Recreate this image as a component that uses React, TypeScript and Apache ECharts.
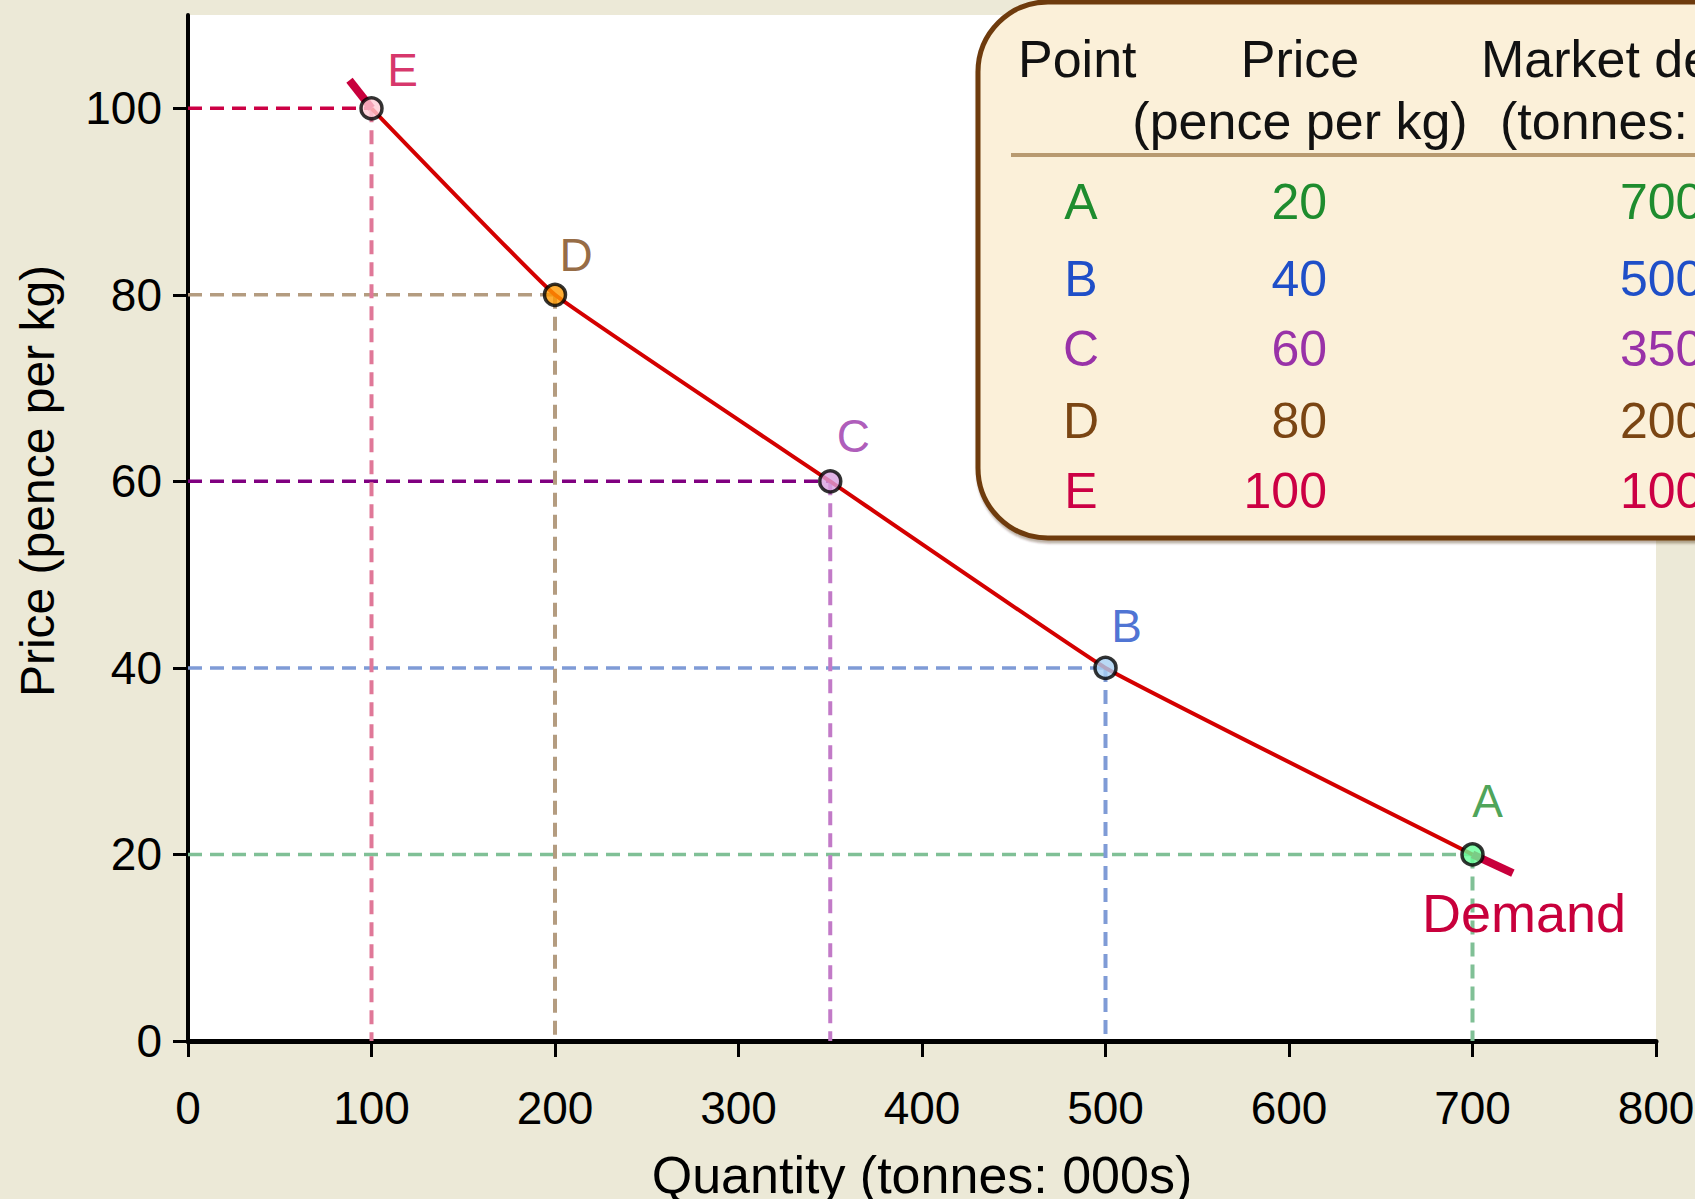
import React, { useEffect, useRef } from "react";
import * as echarts from "echarts";

// ---- data ----
const pointNames = ["A", "B", "C", "D", "E"];
const prices = [20, 40, 60, 80, 100]; // pence per kg
const quantities = [700, 500, 350, 200, 100]; // tonnes 000s
const curveStart = [88, 103]; // upper-left end of the demand curve beyond E
const curveEnd = [722, 18]; // lower-right end of the demand curve beyond A
const xTicks = [0, 100, 200, 300, 400, 500, 600, 700, 800];
const yTicks = [0, 20, 40, 60, 80, 100];

// ---- styles ----
const labelColors = ["#1E8C2E", "#1F4FC8", "#9932A8", "#7A4513", "#CC0044"];
const markerFills = ["#66FF99", "#A8D0F2", "#D9A0E0", "#FF9900", "#FFCCD5"];
const hDashColors = ["#80C096", "#7F9BD6", "#800080", "#B49C80", "#CC0044"];
const vDashColors = ["#80C096", "#7F9BD6", "#C27AC7", "#B49C80", "#E07898"];
const labelOffsets = [
  [15, -53],
  [21, -42],
  [23, -45],
  [21, -40],
  [31, -38],
];
const tableRowY = [202, 279, 349, 421, 491];

const FONT = "'Liberation Sans', Arial, sans-serif";

export default function App() {
  const ref = useRef<HTMLDivElement>(null);

  useEffect(() => {
    if (!ref.current) return;
    const chart = echarts.init(ref.current, undefined, { renderer: "svg" });

    const dashSeries: any[] = [];
    pointNames.forEach((n, i) => {
      dashSeries.push({
        type: "line",
        name: "h-" + n,
        data: [
          [0, prices[i]],
          [quantities[i], prices[i]],
        ],
        symbol: "none",
        silent: true,
        z: 1,
        lineStyle: { color: hDashColors[i], width: 3.5, type: [14, 8] },
      });
      dashSeries.push({
        type: "line",
        name: "v-" + n,
        data: [
          [quantities[i], prices[i]],
          [quantities[i], 0],
        ],
        symbol: "none",
        silent: true,
        z: 1,
        lineStyle: { color: vDashColors[i], width: 4, type: [14, 8] },
      });
    });

    const curveData = quantities
      .map((q, i) => [q, prices[i]])
      .sort((a, b) => a[0] - b[0]);

    const tableTexts: any[] = [];
    pointNames.forEach((n, i) => {
      const y = tableRowY[i];
      tableTexts.push({
        type: "text",
        x: 1081,
        y,
        style: {
          text: n,
          fill: labelColors[i],
          font: `50px ${FONT}`,
          align: "center",
          verticalAlign: "middle",
        },
      });
      tableTexts.push({
        type: "text",
        x: 1327,
        y,
        style: {
          text: String(prices[i]),
          fill: labelColors[i],
          font: `50px ${FONT}`,
          align: "right",
          verticalAlign: "middle",
        },
      });
      tableTexts.push({
        type: "text",
        x: 1620,
        y,
        style: {
          text: String(quantities[i]),
          fill: labelColors[i],
          font: `50px ${FONT}`,
          align: "left",
          verticalAlign: "middle",
        },
      });
    });

    const headerFont = `52px ${FONT}`;

    const option: any = {
      animation: false,
      backgroundColor: "#ECE9D7",
      grid: {
        left: 188,
        right: 39,
        top: 15,
        bottom: 158,
        outerBoundsMode: "none",
        containLabel: false,
        show: true,
        backgroundColor: "#FFFFFF",
        borderWidth: 0,
      },
      xAxis: {
        type: "value",
        min: 0,
        max: 800,
        interval: 100,
        name: "Quantity (tonnes: 000s)",
        nameLocation: "middle",
        nameGap: 108,
        nameTextStyle: { fontFamily: FONT, fontSize: 52, color: "#000" },
        axisLine: { show: true, lineStyle: { color: "#000", width: 5 } },
        axisTick: {
          show: true,
          length: 16,
          lineStyle: { color: "#000", width: 3 },
          customValues: xTicks,
        },
        axisLabel: {
          fontFamily: FONT,
          fontSize: 46,
          color: "#000",
          margin: 44,
          customValues: xTicks,
        },
        splitLine: { show: false },
      },
      yAxis: {
        type: "value",
        min: 0,
        max: 110,
        interval: 20,
        axisLine: { show: true, lineStyle: { color: "#000", width: 4 } },
        axisTick: {
          show: true,
          length: 15,
          lineStyle: { color: "#000", width: 3 },
          customValues: yTicks,
        },
        axisLabel: {
          fontFamily: FONT,
          fontSize: 46,
          color: "#000",
          margin: 26,
          customValues: yTicks,
        },
        splitLine: { show: false },
      },
      series: [
        ...dashSeries,
        {
          type: "line",
          name: "Demand",
          data: curveData,
          symbol: "none",
          smooth: 0.08,
          z: 3,
          lineStyle: { color: "#D40000", width: 4 },
        },
        {
          type: "line",
          name: "Demand upper end",
          data: [curveStart, [quantities[4], prices[4]]],
          symbol: "none",
          z: 3,
          lineStyle: { color: "#C8003C", width: 8 },
        },
        {
          type: "line",
          name: "Demand lower end",
          data: [[quantities[0], prices[0]], curveEnd],
          symbol: "none",
          z: 3,
          lineStyle: { color: "#C8003C", width: 8 },
        },
        {
          type: "scatter",
          name: "Points",
          z: 5,
          symbolSize: 21,
          data: pointNames.map((n, i) => ({
            name: n,
            value: [quantities[i], prices[i]],
            itemStyle: {
              color: markerFills[i],
              borderColor: "#000",
              borderWidth: 3.5,
            },
            label: {
              show: true,
              formatter: n,
              position: "inside",
              offset: labelOffsets[i],
              color: labelColors[i],
              fontFamily: FONT,
              fontSize: 46,
              align: "center",
              verticalAlign: "middle",
            },
          })),
        },
      ],
      graphic: [
        {
          type: "text",
          x: 37,
          y: 481,
          rotation: Math.PI / 2,
          style: {
            text: "Price (pence per kg)",
            fill: "#000",
            font: `48px ${FONT}`,
            align: "center",
            verticalAlign: "middle",
          },
        },
        {
          type: "text",
          x: 1524,
          y: 913,
          z: 10,
          style: {
            text: "Demand",
            fill: "#C8003C",
            font: `54px ${FONT}`,
            align: "center",
            verticalAlign: "middle",
          },
        },
        {
          type: "group",
          z: 20,
          children: [
            {
              type: "rect",
              shape: { x: 978, y: 2, width: 900, height: 536, r: 70 },
              style: {
                fill: "#FBF0D9",
                stroke: "#6E3B0C",
                lineWidth: 5,
                shadowColor: "rgba(60,30,0,0.35)",
                shadowOffsetY: 3,
                shadowOffsetX: 1,
                shadowBlur: 2,
              },
            },
            {
              type: "line",
              shape: { x1: 1011, y1: 155, x2: 1700, y2: 155 },
              style: { stroke: "#B89A70", lineWidth: 4 },
            },
            {
              type: "text",
              x: 1018,
              y: 59,
              style: { text: "Point", fill: "#111", font: headerFont, align: "left", verticalAlign: "middle" },
            },
            {
              type: "text",
              x: 1300,
              y: 59,
              style: { text: "Price", fill: "#111", font: headerFont, align: "center", verticalAlign: "middle" },
            },
            {
              type: "text",
              x: 1300,
              y: 121,
              style: { text: "(pence per kg)", fill: "#111", font: headerFont, align: "center", verticalAlign: "middle" },
            },
            {
              type: "text",
              x: 1481,
              y: 59,
              style: { text: "Market demand", fill: "#111", font: headerFont, align: "left", verticalAlign: "middle" },
            },
            {
              type: "text",
              x: 1500,
              y: 121,
              style: { text: "(tonnes: 000s)", fill: "#111", font: headerFont, align: "left", verticalAlign: "middle" },
            },
            ...tableTexts,
          ],
        },
      ],
    };

    chart.setOption(option);
    return () => chart.dispose();
  }, []);

  return (
    <div
      ref={ref}
      style={{ position: "absolute", left: 0, top: 0, width: 1695, height: 1199 }}
    />
  );
}
